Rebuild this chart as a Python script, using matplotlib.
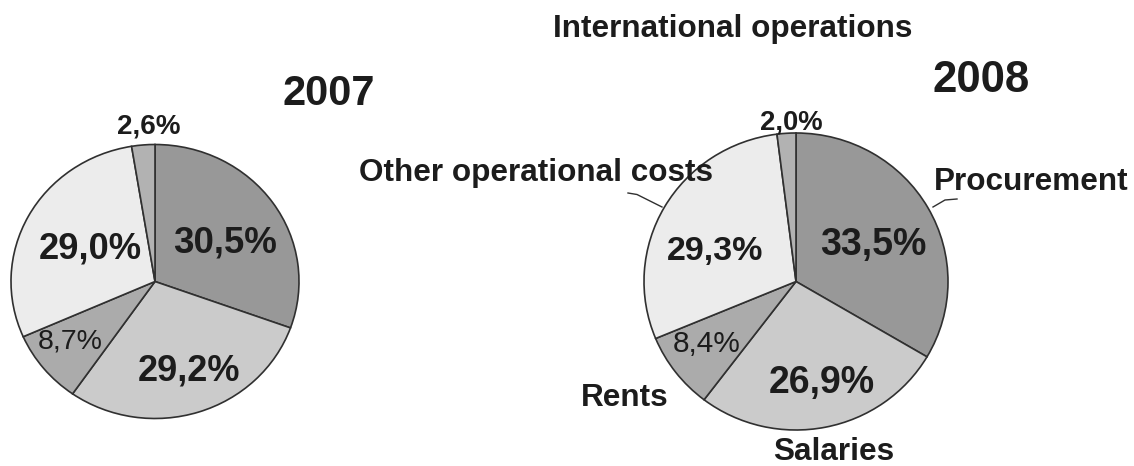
import matplotlib
matplotlib.use("Agg")
import matplotlib.pyplot as plt

# ---- data ----
categories = ["Procurement", "Salaries", "Rents", "Other operational costs", "International operations"]
values_2007 = [30.5, 29.2, 8.7, 29.0, 2.6]
values_2008 = [33.5, 26.9, 8.4, 29.3, 2.0]
years = ["2007", "2008"]

# ---- style ----
W, H = 1134, 466
colors = ["#989898", "#cbcbcb", "#ababab", "#ececec", "#b2b2b2"]
edge = "#303030"
txt = "#1c1c1c"
FONT = "Liberation Sans"

fig = plt.figure(figsize=(W / 100, H / 100), dpi=100)
fig.patch.set_facecolor("white")


def pie_axes(cx, cy, rx, ry):
    ax = fig.add_axes([(cx - rx) / W, (H - (cy + ry)) / H, 2 * rx / W, 2 * ry / H])
    return ax


def draw_pie(ax, vals):
    wedges, _ = ax.pie(vals, colors=colors, startangle=90, counterclock=False, radius=1,
                       wedgeprops=dict(edgecolor=edge, linewidth=1.2))
    for w in wedges:
        w.set_clip_on(False)
    ax.set_aspect("auto")
    ax.set_xlim(-1, 1)
    ax.set_ylim(-1, 1)
    ax.axis("off")


ax1 = pie_axes(155, 281.5, 144, 137)
draw_pie(ax1, values_2007)
ax2 = pie_axes(796, 281.5, 152, 148.5)
draw_pie(ax2, values_2008)

# overlay in pixel coordinates for annotations
ov = fig.add_axes([0, 0, 1, 1], zorder=5)
ov.set_xlim(0, W)
ov.set_ylim(H, 0)
ov.axis("off")
ov.patch.set_alpha(0)


def fmt(v):
    return f"{v:.1f}%".replace(".", ",")


# percentage label placements: (x center, baseline y, size, weight)
pos_2007 = [(225, 252, 26.4, "bold"), (189, 380, 26.0, "bold"), (70, 348, 20.5, "normal"),
            (90, 258, 26.2, "bold"), (148.5, 134, 20.0, "bold")]
pos_2008 = [(873, 255, 27.0, "bold"), (822, 393, 27.0, "bold"), (707, 352, 21.5, "normal"),
            (715, 260, 24.5, "bold"), (791, 130, 19.8, "bold")]

for vals, poss in ((values_2007, pos_2007), (values_2008, pos_2008)):
    for v, (x, y, s, wgt) in zip(vals, poss):
        ov.text(x, y, fmt(v), ha="center", va="baseline", fontsize=s, fontweight=wgt,
                family=FONT, color=txt)

# year titles
ov.text(329, 105, years[0], ha="center", va="baseline", fontsize=30, fontweight="bold",
        family=FONT, color=txt)
ov.text(981, 92.5, years[1], ha="center", va="baseline", fontsize=31.5, fontweight="bold",
        family=FONT, color=txt)

# category labels for 2008
lab_pos = [(1031, 190), (834, 460), (625, 406.5), (536, 181.5), (733, 37)]
for name, (x, y) in zip(categories, lab_pos):
    ov.text(x, y, name, ha="center", va="baseline", fontsize=22.7, fontweight="bold",
            family=FONT, color=txt)

# leader lines
ov.plot([628, 637, 662], [193, 194.5, 207], color=edge, lw=1.0)
ov.plot([933, 945, 957], [207, 200, 199], color=edge, lw=1.0)

fig.savefig("out.png", dpi=100, facecolor="white")
